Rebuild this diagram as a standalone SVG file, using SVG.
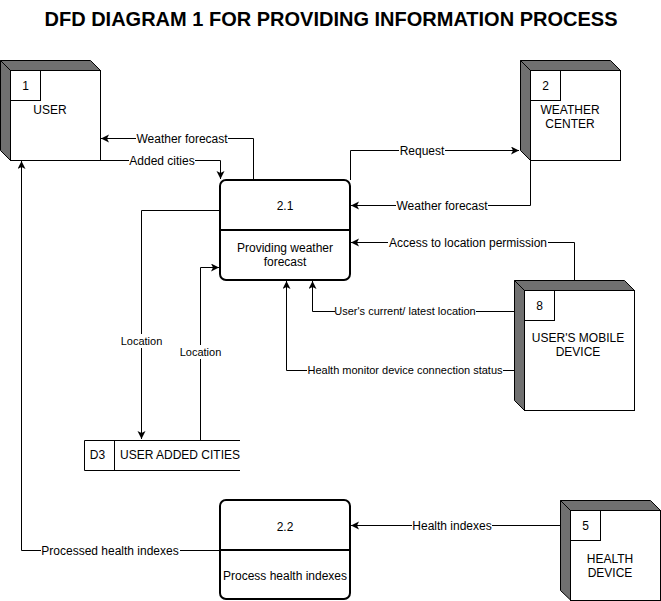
<svg xmlns="http://www.w3.org/2000/svg" width="661" height="601" viewBox="0 0 661 601">
<defs>
<marker id="arr" markerUnits="userSpaceOnUse" markerWidth="10" markerHeight="10" refX="8" refY="4" orient="auto">
<path d="M0,0 L8,4 L0,8 L2,4 Z" fill="#000"/>
</marker>
<style>
text{font-family:"Liberation Sans",Arial,sans-serif;fill:#000;}
.t{font-size:12px;text-anchor:middle;}
.l{font-size:12px;text-anchor:middle;}
.s{font-size:11px;text-anchor:middle;}
.title{font-size:20px;font-weight:bold;text-anchor:middle;}
.face{fill:#fff;stroke:#000;stroke-width:1;}
.dark{fill:#707070;stroke:#000;stroke-width:1;stroke-linejoin:round;}
.proc{fill:#fff;stroke:#000;stroke-width:2;}
.ln{fill:none;stroke:#000;stroke-width:1;}
.e{fill:none;stroke:#000;stroke-width:1;}
.g{fill:none;stroke:#555;stroke-width:1;}
.bg{fill:#fff;}
</style>
</defs>
<rect width="661" height="601" fill="#fff"/>
<text class="title" x="331" y="26">DFD DIAGRAM 1 FOR PROVIDING INFORMATION PROCESS</text>

<g id="connectors">
<path class="e" d="M253.5,180 V138.5 H101" marker-end="url(#arr)"/>
<path class="e" d="M100,160.5 H220.5 V179" marker-end="url(#arr)"/>
<path class="e" d="M350.5,180 V150.5 H519" marker-end="url(#arr)"/>
<path class="e" d="M530.5,160 V205.5 H351" marker-end="url(#arr)"/>
<path class="e" d="M574.5,280 V242.5 H351" marker-end="url(#arr)"/>
<path class="e" d="M514,311.5 H312.5 V281" marker-end="url(#arr)"/>
<path class="e" d="M514,370.5 H286.5 V281" marker-end="url(#arr)"/>
<path class="e" d="M220,210.5 H141.5 V439" marker-end="url(#arr)"/>
<path class="e" d="M200.5,440 V267.5 H219" marker-end="url(#arr)"/>
<path class="e" d="M220,550.5 H21.5 V161" marker-end="url(#arr)"/>
<path class="e" d="M560,525.5 H351" marker-end="url(#arr)"/>
<rect class="bg" x="136" y="131" width="92" height="14"/>
<text class="l" x="182" y="142.5">Weather forecast</text>
<rect class="bg" x="129" y="153" width="66" height="14"/>
<text class="l" x="162" y="164.5">Added cities</text>
<rect class="bg" x="399" y="143" width="46" height="14"/>
<text class="l" x="422" y="154.5">Request</text>
<rect class="bg" x="396" y="198" width="92" height="14"/>
<text class="l" x="442" y="209.5">Weather forecast</text>
<rect class="bg" x="388" y="235" width="160" height="14"/>
<text class="l" x="468" y="246.5">Access to location permission</text>
<rect class="bg" x="335" y="304" width="141" height="14"/>
<text class="s" x="405" y="315">User's current/ latest location</text>
<rect class="bg" x="307" y="363" width="196" height="14"/>
<text class="s" x="405" y="374">Health monitor device connection status</text>
<rect class="bg" x="120" y="334" width="43" height="14"/>
<text class="s" x="141.5" y="345">Location</text>
<rect class="bg" x="179" y="345" width="43" height="14"/>
<text class="s" x="200.5" y="356">Location</text>
<rect class="bg" x="41" y="543" width="139" height="14"/>
<text class="l" x="110" y="554.5">Processed health indexes</text>
<rect class="bg" x="412" y="518" width="80" height="14"/>
<text class="l" x="452" y="529.5">Health indexes</text>
</g>

<g id="user">
<path class="dark" d="M0.5,60.5 H90.5 L100.5,70.5 H10.5 Z"/>
<path class="dark" d="M0.5,60.5 L10.5,70.5 V160.5 L0.5,150.5 Z"/>
<rect class="face" x="10.5" y="70.5" width="90" height="90"/>
<rect class="face" x="10.5" y="70.5" width="30" height="30"/>
<text class="t" x="25.5" y="90">1</text>
<text class="t" x="50" y="114">USER</text>
</g>

<g id="weather-center">
<path class="dark" d="M520.5,60.5 H610.5 L620.5,70.5 H530.5 Z"/>
<path class="dark" d="M520.5,60.5 L530.5,70.5 V160.5 L520.5,150.5 Z"/>
<rect class="face" x="530.5" y="70.5" width="90" height="90"/>
<rect class="face" x="530.5" y="70.5" width="30" height="30"/>
<text class="t" x="545.5" y="90">2</text>
<text class="t" x="570" y="114">WEATHER</text>
<text class="t" x="570" y="128">CENTER</text>
</g>

<g id="mobile-device">
<path class="dark" d="M514.5,280.5 H624.5 L634.5,290.5 H524.5 Z"/>
<path class="dark" d="M514.5,280.5 L524.5,290.5 V410.5 L514.5,400.5 Z"/>
<rect class="face" x="524.5" y="290.5" width="110" height="120"/>
<rect class="face" x="524.5" y="290.5" width="30" height="30"/>
<text class="t" x="539.5" y="310">8</text>
<text class="t" x="578" y="342">USER'S MOBILE</text>
<text class="t" x="578" y="356">DEVICE</text>
</g>

<g id="health-device">
<path class="dark" d="M560.5,500.5 H650.5 L660.5,510.5 H570.5 Z"/>
<path class="dark" d="M560.5,500.5 L570.5,510.5 V600 L560.5,590.5 Z"/>
<rect class="face" x="570.5" y="510.5" width="90" height="90"/>
<rect class="face" x="570.5" y="510.5" width="30" height="30"/>
<text class="t" x="585.5" y="530">5</text>
<text class="t" x="610" y="563">HEALTH</text>
<text class="t" x="610" y="577">DEVICE</text>
</g>

<g id="process-2-1">
<rect class="proc" x="220" y="180" width="130" height="100" rx="6"/>
<line class="proc" x1="220" y1="230" x2="350" y2="230"/>
<text class="t" x="285" y="210">2.1</text>
<text class="t" x="285" y="252">Providing weather</text>
<text class="t" x="285" y="266">forecast</text>
</g>

<g id="process-2-2">
<rect class="proc" x="220" y="500" width="130" height="99" rx="6"/>
<line class="proc" x1="220" y1="550" x2="350" y2="550"/>
<text class="t" x="285" y="531">2.2</text>
<text class="t" x="285" y="580">Process health indexes</text>
</g>

<g id="d3">
<path class="ln" d="M240,440.5 H84.5 V470.5 H240 M114.5,440.5 V470.5"/>
<text class="t" x="97.5" y="459">D3</text>
<text style="font-size:12px" x="120" y="459">USER ADDED CITIES</text>
</g>
</svg>
